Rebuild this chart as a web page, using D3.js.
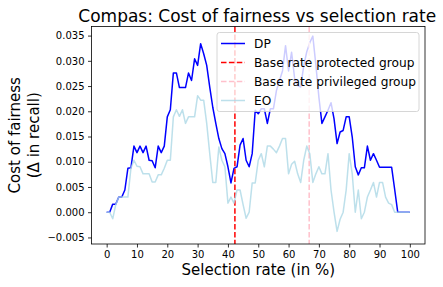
<!DOCTYPE html>
<meta charset="utf-8">
<style>
  body { margin: 0; background: #fff; }
  text { font-family: "DejaVu Sans", sans-serif; }
  .axis path, .axis line { stroke: #000; stroke-width: 0.8; }
  .axis text { font-size: 10px; fill: #000; }
</style>
<svg width="443" height="287"></svg>
<script src="https://cdnjs.cloudflare.com/ajax/libs/d3/7.8.5/d3.min.js"></script>
<script>
// selection rate in %, 0..100
var rates = d3.range(0, 101);

var dp = [
  0.0000, 0.0000, 0.0016, 0.0016, 0.0030, 0.0030, 0.0044, 0.0087, 0.0088, 0.0131,
  0.0118, 0.0131, 0.0118, 0.0131, 0.0103, 0.0102, 0.0088, 0.0131, 0.0118, 0.0131,
  0.0189, 0.0203, 0.0276, 0.0276, 0.0247, 0.0247, 0.0247, 0.0276, 0.0261, 0.0304,
  0.0291, 0.0334, 0.0314, 0.0291, 0.0248, 0.0208, 0.0176, 0.0146, 0.0126, 0.0116,
  0.0090, 0.0058, 0.0087, 0.0090, 0.0133, 0.0146, 0.0103, 0.0090, 0.0116, 0.0202,
  0.0195, 0.0205, 0.0205, 0.0176, 0.0205, 0.0205, 0.0241, 0.0261, 0.0280, 0.0330,
  0.0280, 0.0317, 0.0265, 0.0251, 0.0248, 0.0290, 0.0318, 0.0336, 0.0349, 0.0292,
  0.0228, 0.0176, 0.0189, 0.0202, 0.0217, 0.0185, 0.0136, 0.0159, 0.0162, 0.0189,
  0.0189, 0.0149, 0.0090, 0.0074, 0.0088, 0.0088, 0.0131, 0.0103, 0.0116, 0.0103,
  0.0089, 0.0089, 0.0089, 0.0089, 0.0089, 0.0045, 0.0000, 0.0000, 0.0000, 0.0000,
  0.0000
];

var eo = [
  0.0000, 0.0000, -0.0013, 0.0015, 0.0030, 0.0030, 0.0030, 0.0030, 0.0087, 0.0103,
  0.0091, 0.0090, 0.0076, 0.0076, 0.0076, 0.0060, 0.0060, 0.0074, 0.0074, 0.0087,
  0.0103, 0.0103, 0.0189, 0.0203, 0.0190, 0.0203, 0.0176, 0.0189, 0.0189, 0.0189,
  0.0231, 0.0222, 0.0222, 0.0176, 0.0116, 0.0059, 0.0059, 0.0129, 0.0103, 0.0090,
  0.0018, 0.0030, 0.0018, 0.0044, 0.0044, 0.0015, -0.0012, 0.0000, 0.0058, 0.0058,
  0.0103, 0.0116, 0.0090, 0.0131, 0.0131, 0.0125, 0.0118, 0.0131, 0.0146, 0.0146,
  0.0076, 0.0095, 0.0101, 0.0076, 0.0059, 0.0103, 0.0131, 0.0116, 0.0059, 0.0076,
  0.0090, 0.0076, 0.0076, 0.0116, 0.0044, 0.0000, -0.0038, -0.0014, 0.0000, 0.0044,
  0.0116, 0.0076, 0.0000, 0.0044, -0.0013, 0.0000, 0.0030, 0.0044, 0.0059, 0.0030,
  0.0059, 0.0059, 0.0030, 0.0018, 0.0015, 0.0000, 0.0000, 0.0000, 0.0000, 0.0000,
  0.0000
];

var baseRates = [42.3, 66.8];
var xTicks = d3.range(0, 101, 10);
var yTicks = [-0.005, 0, 0.005, 0.01, 0.015, 0.02, 0.025, 0.03, 0.035];

var svg = d3.select("svg"),
  margin = {top: 26.5, right: 18, bottom: 43, left: 91.5},
  width = +svg.attr("width") - margin.left - margin.right,
  height = +svg.attr("height") - margin.top - margin.bottom;

var x = d3.scaleLinear().domain([-5, 105]).range([margin.left, margin.left + width]);
var y = d3.scaleLinear().domain([-0.0063, 0.0368]).range([margin.top + height, margin.top]);

var line = d3.line()
  .x(function(d, i) { return x(rates[i]); })
  .y(function(d) { return y(d); });

var plot = svg.append("g");

plot.append("path").datum(dp)
  .attr("fill", "none").attr("stroke", "blue").attr("stroke-width", 1.5)
  .attr("stroke-linejoin", "round").attr("d", line);

plot.append("line")
  .attr("x1", x(baseRates[0])).attr("x2", x(baseRates[0]))
  .attr("y1", margin.top).attr("y2", margin.top + height)
  .attr("stroke", "red").attr("stroke-width", 1.5).attr("stroke-dasharray", "5.5,2.4");

plot.append("line")
  .attr("x1", x(baseRates[1])).attr("x2", x(baseRates[1]))
  .attr("y1", margin.top).attr("y2", margin.top + height)
  .attr("stroke", "pink").attr("stroke-width", 1.5).attr("stroke-dasharray", "5.5,2.4");

plot.append("path").datum(eo)
  .attr("fill", "none").attr("stroke", "lightblue").attr("stroke-width", 1.5)
  .attr("stroke-opacity", 0.8).attr("stroke-linejoin", "round").attr("d", line);

// axes
svg.append("g").attr("class", "axis")
  .attr("transform", "translate(0," + (margin.top + height) + ")")
  .call(d3.axisBottom(x).tickValues(xTicks).tickSize(3.5).tickPadding(3.5).tickFormat(d3.format("d")));

svg.append("g").attr("class", "axis")
  .attr("transform", "translate(" + margin.left + ",0)")
  .call(d3.axisLeft(y).tickValues(yTicks).tickSize(3.5).tickPadding(3.5)
    .tickFormat(function(d) { return d3.format(".3f")(d).replace("-", "\u2212"); }));

svg.selectAll(".axis .domain").remove();
svg.append("rect")
  .attr("x", margin.left).attr("y", margin.top)
  .attr("width", width).attr("height", height)
  .attr("fill", "none").attr("stroke", "#000").attr("stroke-width", 0.8);

// legend
var legendItems = [
  {label: "DP", color: "blue", dash: null, op: 1},
  {label: "Base rate protected group", color: "red", dash: "5.5,2.4", op: 1},
  {label: "Base rate privileged group", color: "pink", dash: "5.5,2.4", op: 1},
  {label: "EO", color: "lightblue", dash: null, op: 0.8}
];

var lg = svg.append("g").attr("transform", "translate(217,32.5)");
lg.append("rect")
  .attr("width", 202).attr("height", 79).attr("rx", 2.5)
  .attr("fill", "#fff").attr("fill-opacity", 0.8)
  .attr("stroke", "#ccc").attr("stroke-width", 0.8);

var item = lg.selectAll(".item").data(legendItems).enter().append("g")
  .attr("transform", function(d, i) { return "translate(0," + (11 + i * 19) + ")"; });
item.append("line")
  .attr("x1", 4).attr("x2", 28)
  .attr("stroke", function(d) { return d.color; })
  .attr("stroke-width", 1.5)
  .attr("stroke-opacity", function(d) { return d.op; })
  .attr("stroke-dasharray", function(d) { return d.dash; });
item.append("text")
  .attr("x", 37).attr("dy", "0.36em")
  .style("font-size", "12.2px")
  .text(function(d) { return d.label; });

// titles
svg.append("text")
  .attr("x", margin.left + width / 2 - 1).attr("y", 21.5)
  .attr("text-anchor", "middle").style("font-size", "17px")
  .text("Compas: Cost of fairness vs selection rate");

svg.append("text")
  .attr("x", margin.left + width / 2).attr("y", 275)
  .attr("text-anchor", "middle").style("font-size", "15px")
  .text("Selection rate (in %)");

var yl = svg.append("text")
  .attr("transform", "translate(20," + (margin.top + height / 2) + ") rotate(-90)")
  .attr("text-anchor", "middle").style("font-size", "15px");
yl.append("tspan").attr("x", 0).attr("y", 0).text("Cost of fairness");
yl.append("tspan").attr("x", 0).attr("y", 19).text("(\u0394 in recall)");
</script>
